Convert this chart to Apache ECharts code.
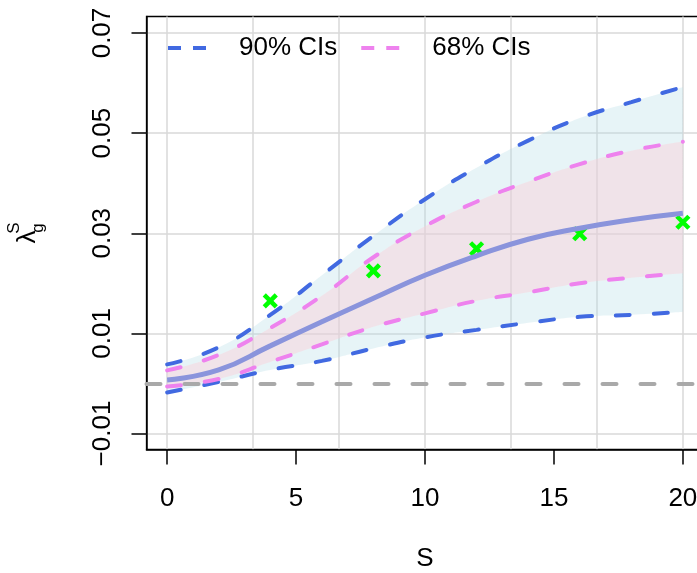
<!DOCTYPE html>
<html><head><meta charset="utf-8">
<script src="https://cdn.jsdelivr.net/npm/echarts@6/dist/echarts.min.js"></script>
<style>html,body{margin:0;padding:0;background:#fff}#c{width:697px;height:573px}</style>
</head><body><div id="c"></div>
<script>
// ---- data ----
const S       = [0, 2, 4, 6, 8, 10, 12, 14, 16, 18, 20];
const median  = [0.0007, 0.0027, 0.0075, 0.0123, 0.0170, 0.0216, 0.0255, 0.0288, 0.0310, 0.0327, 0.0340];
const upper90 = [0.0038, 0.0072, 0.0137, 0.0216, 0.0295, 0.0368, 0.0431, 0.0485, 0.0530, 0.0562, 0.0592];
const upper68 = [0.0026, 0.0057, 0.0111, 0.0175, 0.0252, 0.0314, 0.0363, 0.0403, 0.0438, 0.0465, 0.0483];
const lower68 = [-0.0006, 0.0009, 0.0043, 0.0078, 0.0113, 0.0140, 0.0165, 0.0182, 0.0200, 0.0211, 0.0220];
const lower90 = [-0.0018, 0.0003, 0.0027, 0.0045, 0.0070, 0.0092, 0.0107, 0.0121, 0.0133, 0.0137, 0.0143];
const obsS    = [4, 8, 12, 16, 20];
const obsVal  = [0.0165, 0.0225, 0.0269, 0.0299, 0.0322];
const xTicks  = [0, 5, 10, 15, 20];
const xGrid   = [0, 10/3, 20/3, 10, 40/3, 50/3, 20];
const yTicks  = [-0.01, 0.01, 0.03, 0.05, 0.07];
const legendNames = ['90% CIs', '68% CIs'];

// ---- chart ----
const FONT = '"Liberation Sans", Arial, Helvetica, sans-serif';
const FS = 26;
const pairs = (xs, ys) => xs.map((x, i) => [x, ys[i]]);
const DASH = [14, 24];
const BLUE = '#4169E1', PINK = '#EE82EE', MED = '#8A94DC';
const SMOOTH = 0.5;

// same smoothing scheme as the line series, sampled into a polyline (pixel space)
function smoothPts(pts, smooth) {
  const out = [pts[0].slice()];
  let c0x = pts[0][0], c0y = pts[0][1];
  for (let i = 1; i < pts.length; i++) {
    const px = pts[i - 1][0], py = pts[i - 1][1], x = pts[i][0], y = pts[i][1];
    let c1x, c1y, ncx = x, ncy = y;
    if (i === pts.length - 1) { c1x = x; c1y = y; }
    else {
      const nx = pts[i + 1][0], ny = pts[i + 1][1];
      let vx = nx - px, vy = ny - py;
      const lp = Math.hypot(x - px, y - py), ln = Math.hypot(nx - x, ny - y);
      const r = ln / (ln + lp);
      ncx = x + vx * smooth * r; ncy = y + vy * smooth * r;
      ncx = Math.min(ncx, Math.max(nx, x)); ncy = Math.min(ncy, Math.max(ny, y));
      ncx = Math.max(ncx, Math.min(nx, x)); ncy = Math.max(ncy, Math.min(ny, y));
      vx = ncx - x; vy = ncy - y;
      c1x = x - vx * lp / ln; c1y = y - vy * lp / ln;
      c1x = Math.min(c1x, Math.max(px, x)); c1y = Math.min(c1y, Math.max(py, y));
      c1x = Math.max(c1x, Math.min(px, x)); c1y = Math.max(c1y, Math.min(py, y));
      vx = x - c1x; vy = y - c1y;
      ncx = x + vx * ln / lp; ncy = y + vy * ln / lp;
    }
    for (let k = 1; k <= 16; k++) {
      const t = k / 16, u = 1 - t;
      out.push([
        u * u * u * px + 3 * u * u * t * c0x + 3 * u * t * t * c1x + t * t * t * x,
        u * u * u * py + 3 * u * u * t * c0y + 3 * u * t * t * c1y + t * t * t * y
      ]);
    }
    c0x = ncx; c0y = ncy;
  }
  return out;
}

function bandSeries(name, lo, hi, fill) {
  return {
    type: 'custom', name: name, silent: true, data: pairs(S, hi),
    renderItem: function (params, api) {
      if (params.dataIndex !== 0) return null;
      const up = S.map((s, i) => api.coord([s, hi[i]]));
      const dn = S.map((s, i) => api.coord([s, lo[i]])).reverse();
      return { type: 'polygon', shape: { points: smoothPts(up, SMOOTH).concat(smoothPts(dn, SMOOTH)) }, style: { fill: fill } };
    }
  };
}

const chart = echarts.init(document.getElementById('c'));
const lineBase = { type: 'line', smooth: SMOOTH, symbol: 'none', showSymbol: false, silent: true, xAxisIndex: 0 };

chart.setOption({
  animation: false,
  textStyle: { fontFamily: FONT },
  grid: { left: 146.5, top: 16.5, width: 557, height: 433, show: true, borderColor: '#000', borderWidth: 1.3,
    backgroundColor: 'transparent', containLabel: false, outerBoundsMode: 'none' },
  legend: {
    data: legendNames, left: 168, top: 35, padding: 0, itemGap: 24,
    itemWidth: 38, itemHeight: 4,
    icon: 'path://M0,0H13V4H0Z M25,0H38V4H25Z',
    textStyle: { fontSize: FS, color: '#000', fontFamily: FONT, padding: [0, 0, 0, 28] },
    itemStyle: { borderWidth: 0 }, lineStyle: { width: 0 }
  },
  xAxis: [{
    type: 'value', min: -0.8, max: 20.8, position: 'bottom',
    axisLine: { show: true, onZero: false, lineStyle: { color: '#000', width: 1.5 } },
    axisTick: { show: true, inside: false, length: 15, customValues: xTicks, lineStyle: { color: '#000', width: 1.5 } },
    axisLabel: { show: true, customValues: xTicks, margin: 36, fontSize: FS, color: '#000', fontFamily: FONT, formatter: v => String(v) },
    splitLine: { show: false },
    name: 'S', nameLocation: 'middle', nameGap: 96,
    nameTextStyle: { fontSize: FS, color: '#000', fontFamily: FONT }
  }, {
    type: 'value', min: -0.8, max: 20.8, position: 'top',
    axisLine: { show: false }, axisTick: { show: false, customValues: xGrid },
    axisLabel: { show: false }, splitLine: { show: true, lineStyle: { color: '#D9D9D9', width: 1.5 } }
  }],
  yAxis: {
    type: 'value', min: -0.0132, max: 0.0733,
    axisLine: { show: true, onZero: false, lineStyle: { color: '#000', width: 1.5 } },
    axisTick: { show: true, inside: false, length: 15, customValues: yTicks, lineStyle: { color: '#000', width: 1.5 } },
    axisLabel: { show: true, customValues: yTicks, rotate: 90, margin: 31, fontSize: FS, color: '#000', fontFamily: FONT,
      formatter: v => (v < 0 ? '\u2212' : '') + Math.abs(v).toFixed(2) },
    splitLine: { show: true, lineStyle: { color: '#D9D9D9', width: 1.5 } }
  },
  graphic: [{
    type: 'group', x: 27.5, y: 237, rotation: Math.PI / 2,
    children: [
      { type: 'text', x: 0, y: 0, style: { text: 'λ', font: FS + 'px ' + FONT, fill: '#000', align: 'center', verticalAlign: 'middle' } },
      { type: 'text', x: 9, y: -13, style: { text: 'S', font: '17px ' + FONT, fill: '#000', align: 'center', verticalAlign: 'middle' } },
      { type: 'text', x: 9, y: 11, style: { text: 'g', font: '17px ' + FONT, fill: '#000', align: 'center', verticalAlign: 'middle' } }
    ]
  }],
  series: [
    bandSeries('band90', lower90, upper90, 'rgba(176,220,230,0.3)'),
    bandSeries('band68', lower68, upper68, 'rgba(254,202,213,0.4)'),
    Object.assign({}, lineBase, { name: 'zero', data: [], markLine: { silent: true, symbol: ['none', 'none'], label: { show: false },
      lineStyle: { color: '#A9A9A9', width: 4, type: DASH, cap: 'round' }, data: [{ yAxis: 0 }] } }),
    Object.assign({}, lineBase, { name: '90% CIs', data: pairs(S, upper90), color: BLUE, lineStyle: { color: BLUE, width: 4, type: DASH, cap: 'round' } }),
    Object.assign({}, lineBase, { name: '90% CIs', data: pairs(S, lower90), color: BLUE, lineStyle: { color: BLUE, width: 4, type: DASH, cap: 'round' } }),
    Object.assign({}, lineBase, { name: '68% CIs', data: pairs(S, upper68), color: PINK, lineStyle: { color: PINK, width: 4, type: DASH, cap: 'round' } }),
    Object.assign({}, lineBase, { name: '68% CIs', data: pairs(S, lower68), color: PINK, lineStyle: { color: PINK, width: 4, type: DASH, cap: 'round' } }),
    Object.assign({}, lineBase, { name: 'median', data: pairs(S, median), lineStyle: { color: MED, width: 5 } }),
    { type: 'scatter', name: 'obs', data: pairs(obsS, obsVal), silent: true,
      symbol: 'path://M0,0L10,10M10,0L0,10', symbolSize: 12,
      itemStyle: { color: 'rgba(0,0,0,0)', borderColor: '#00FF00', borderWidth: 4.5, opacity: 1 } }
  ]
});
</script></body></html>
